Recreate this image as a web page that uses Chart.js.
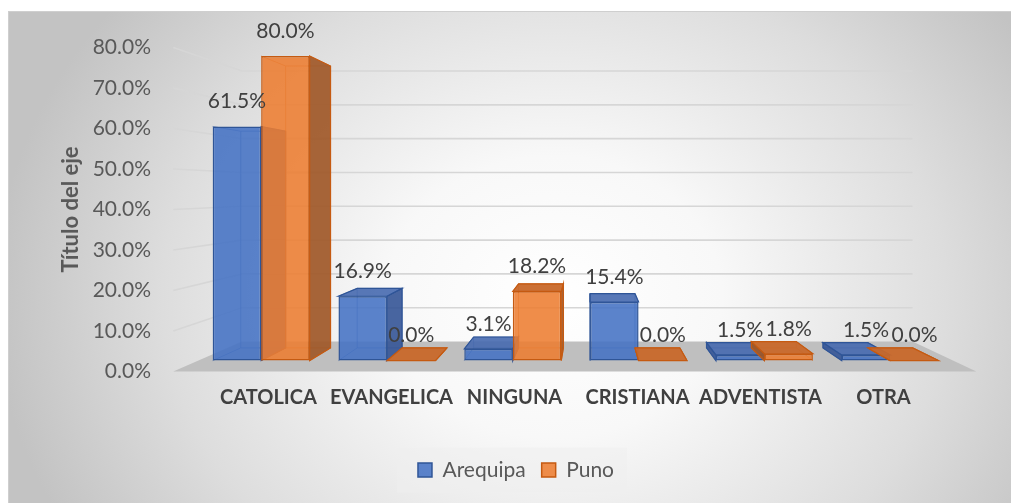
<!DOCTYPE html>
<html lang="es">
<head>
<meta charset="UTF-8">
<title>Religión por región</title>
<script src="https://cdn.jsdelivr.net/npm/chart.js"></script>
<style>
  html, body { margin: 0; padding: 0; background: #fff; overflow: hidden; }
  #marco {
    position: absolute; left: 8px; top: 11px; width: 1030px; height: 520px;
    border: 1px solid #cfcfcf;
    background: radial-gradient(ellipse 560px 470px at 545px 285px, #ffffff 0%, #f8f8f8 30%, #dddddd 70%, #c3c3c3 100%);
  }
  #grafico { position: absolute; left: 0; top: 0; }
</style>
</head>
<body>
<div id="marco"></div>
<canvas id="grafico" width="1011" height="503"></canvas>

<script>
  // datos
  const categorias = ['CATOLICA', 'EVANGELICA', 'NINGUNA', 'CRISTIANA', 'ADVENTISTA', 'OTRA'];
  const arequipa = [61.5, 16.9, 3.1, 15.4, 1.5, 1.5];
  const puno = [80.0, 0.0, 18.2, 0.0, 1.8, 0.0];
  const ticksEje = [0, 10, 20, 30, 40, 50, 60, 70, 80];

  // perspectiva (punto de fuga y profundidades)
  const XC = 590, YC = 190;
  const K_LABEL = 0.919, K_FRONT = 0.94, K_BACK = 0.87, K_WALL = 0.835;

  const colores = [
    { edge: 'rgba(47,85,151,0.55)', side: 'rgba(52,84,150,0.9)', top: 'rgba(70,105,175,0.9)' },
    { edge: 'rgba(197,90,17,0.55)', side: 'rgba(160,88,40,0.92)', top: 'rgba(200,104,42,0.95)' }
  ];

  Chart.defaults.font.family = 'Lato, "Open Sans", sans-serif';
  Chart.defaults.color = '#595959';

  // el titulo rotado mete un padding superior enorme, lo anulamos
  function sinPadding(s) {
    s.paddingTop = 0;
    s.paddingBottom = 0;
  }

  function P(X, Y, k) {
    return [XC + (X - XC) * k / K_LABEL, YC + (Y - YC) * k];
  }

  function poly(ctx, pts, fill, stroke, lw) {
    ctx.beginPath();
    ctx.moveTo(pts[0][0], pts[0][1]);
    for (let i = 1; i < pts.length; i++) ctx.lineTo(pts[i][0], pts[i][1]);
    ctx.closePath();
    if (fill) { ctx.fillStyle = fill; ctx.fill(); }
    if (stroke) { ctx.strokeStyle = stroke; ctx.lineWidth = lw || 1; ctx.stroke(); }
  }

  function line(ctx, a, b) {
    ctx.beginPath();
    ctx.moveTo(a[0], a[1]);
    ctx.lineTo(b[0], b[1]);
    ctx.stroke();
  }

  function caras(ctx, el, c, borde) {
    const o = el.$orig;
    const xL = o.x - o.width / 2, xR = o.x + o.width / 2;
    const yT = Math.min(o.y, o.base), yB = Math.max(o.y, o.base);
    const q = k => ({ tl: P(xL, yT, k), tr: P(xR, yT, k), bl: P(xL, yB, k), br: P(xR, yB, k) });
    const F = q(K_FRONT), B = q(K_BACK);

    // aristas ocultas (se ven por la transparencia)
    ctx.strokeStyle = c.edge;
    ctx.lineWidth = 1;
    poly(ctx, [B.tl, B.tr, B.br, B.bl], null, c.edge, 1);
    ['tl', 'tr', 'bl', 'br'].forEach(n => line(ctx, F[n], B[n]));

    if (xR < XC) poly(ctx, [F.tr, B.tr, B.br, F.br], c.side, borde, 1.2);
    if (xL > XC) poly(ctx, [F.tl, B.tl, B.bl, F.bl], c.side, borde, 1.2);
    if (yT > YC) poly(ctx, [F.tl, F.tr, B.tr, B.tl], c.top, borde, 1.2);
  }

  const tresD = {
    id: 'tresD',
    beforeDraw(chart) {
      // fondo de la leyenda
      const hb = chart.legend && chart.legend.legendHitBoxes;
      if (hb && hb.length) {
        const ctx = chart.ctx;
        const last = hb[hb.length - 1];
        const cy = hb[0].top + hb[0].height / 2;
        ctx.save();
        ctx.fillStyle = 'rgba(238,238,238,0.55)';
        ctx.fillRect(hb[0].left - 21, cy - 22.5, last.left + last.width + 13 - (hb[0].left - 21), 45);
        ctx.restore();
      }
    },
    afterDatasetsUpdate(chart) {
      chart.data.datasets.forEach((ds, di) => {
        chart.getDatasetMeta(di).data.forEach(el => {
          const o = { x: el.x, y: el.y, base: el.base, width: el.width };
          el.$orig = o;
          el.x = XC + (o.x - XC) * K_FRONT / K_LABEL;
          el.width = o.width * K_FRONT / K_LABEL;
          el.y = YC + (o.y - YC) * K_FRONT;
          el.base = YC + (o.base - YC) * K_FRONT;
        });
      });
    },
    beforeDatasetsDraw(chart) {
      const ctx = chart.ctx;
      const area = chart.chartArea;
      const ys = chart.scales.y;
      const Yb = ys.getPixelForValue(0);
      ctx.save();

      // lineas de division: pared izquierda y fondo
      ctx.strokeStyle = '#d6d6d6';
      ctx.lineWidth = 1.6;
      ticksEje.forEach(v => {
        if (v === 0) return;
        const Y = ys.getPixelForValue(v);
        const a = P(area.left, Y, 1), b = P(area.left, Y, K_WALL), c = P(area.right, Y, K_WALL);
        ctx.beginPath();
        ctx.moveTo(a[0], a[1]);
        ctx.lineTo(b[0], b[1]);
        ctx.lineTo(c[0], c[1]);
        ctx.stroke();
      });

      // piso
      poly(ctx, [P(area.left, Yb, 1), P(area.right, Yb, 1), P(area.right, Yb, K_WALL), P(area.left, Yb, K_WALL)], '#bfbfbf');

      // barras, en orden: Arequipa y luego Puno en cada categoria
      const metas = chart.data.datasets.map((ds, di) => chart.getDatasetMeta(di));
      categorias.forEach((cat, i) => {
        metas.forEach((m, di) => {
          const el = m.data[i];
          if (!el || !el.$orig) return;
          caras(ctx, el, colores[di], chart.data.datasets[di].borderColor);
          el.draw(ctx, area);
        });
      });
      ctx.restore();
      return false;
    },
    afterDraw(chart) {
      // etiquetas de valor
      const ctx = chart.ctx;
      ctx.save();
      ctx.font = '21px Lato, "Open Sans", sans-serif';
      ctx.fillStyle = '#404040';
      ctx.textAlign = 'center';
      ctx.textBaseline = 'middle';
      chart.data.datasets.forEach((ds, di) => {
        chart.getDatasetMeta(di).data.forEach((el, i) => {
          const top = Math.min(el.y, el.base);
          ctx.fillText(ds.data[i].toFixed(1) + '%', el.x, top - 25);
        });
      });
      ctx.restore();
    }
  };

  new Chart(document.getElementById('grafico'), {
    type: 'bar',
    data: {
      labels: categorias,
      datasets: [
        {
          label: 'Arequipa', data: arequipa,
          backgroundColor: 'rgba(68,114,196,0.88)', borderColor: '#2F5597',
          borderWidth: 1.5, borderSkipped: false
        },
        {
          label: 'Puno', data: puno,
          backgroundColor: 'rgba(237,125,49,0.88)', borderColor: '#C55A11',
          borderWidth: 1.5, borderSkipped: false
        }
      ]
    },
    options: {
      responsive: false,
      animation: false,
      events: [],
      categoryPercentage: 0.771,
      barPercentage: 1.0,
      layout: { padding: { left: 21, right: 0, top: 47.5, bottom: 12.5 } },
      plugins: {
        tooltip: { enabled: false },
        legend: {
          position: 'bottom',
          labels: {
            boxWidth: 14, boxHeight: 14, padding: 16,
            color: '#595959',
            font: { size: 21 }
          }
        }
      },
      scales: {
        x: {
          grid: { display: false, drawTicks: false },
          border: { display: false },
          ticks: { color: '#404040', font: { size: 20, weight: 'bold' }, padding: 14, maxRotation: 0, autoSkip: false },
          afterFit: s => { sinPadding(s); s.height = 72; }
        },
        y: {
          min: 0, max: 80,
          grid: { display: false, drawTicks: false },
          border: { display: false },
          afterBuildTicks: s => { s.ticks = ticksEje.map(v => ({ value: v })); },
          ticks: {
            color: '#595959', font: { size: 21 }, padding: 56,
            callback: v => v.toFixed(1) + '%'
          },
          title: {
            display: true, text: 'Título del eje', color: '#595959',
            font: { size: 22, weight: 'bold' }, padding: { top: 37, bottom: 0 }
          },
          afterFit: s => { sinPadding(s); s.width = 186; }
        },
        yR: {
          position: 'right',
          display: true,
          grid: { display: false, drawTicks: false },
          border: { display: false },
          ticks: { display: false },
          afterFit: s => { sinPadding(s); s.width = 66; }
        }
      }
    },
    plugins: [tresD]
  });
</script>
</body>
</html>
